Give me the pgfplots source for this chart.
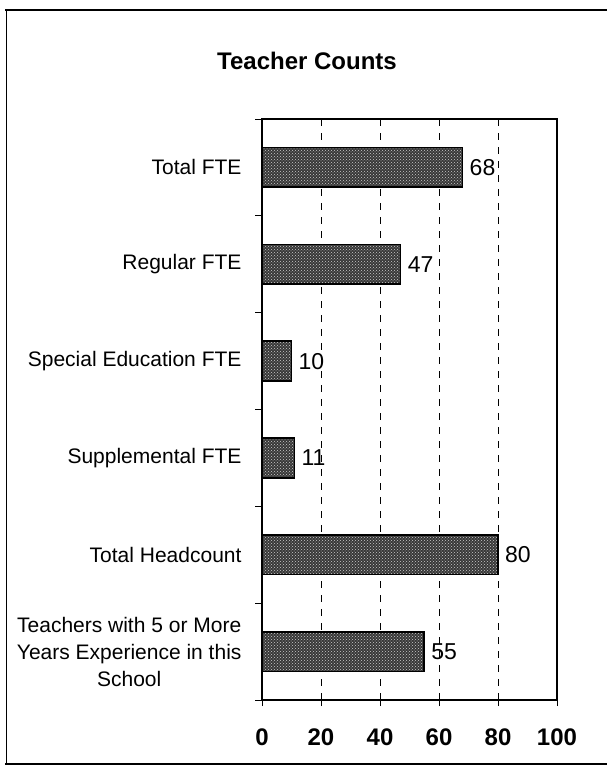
\documentclass[border=0pt]{standalone}
\usepackage{fontspec}
\setmainfont{Liberation Sans}
\usepackage{pgfplots}
\pgfplotsset{compat=1.18}
\usetikzlibrary{patterns}
\begin{document}
\begin{tikzpicture}
\useasboundingbox (0pt,0pt) rectangle (607pt,-767pt);
% scanned page frame
\draw[line width=2pt] (5pt,-10pt) -- (607pt,-10pt);
\draw[line width=0.8pt] (6pt,-10pt) -- (6pt,-764pt);
\draw[line width=1.2pt] (5pt,-764pt) -- (607pt,-764pt);
\node[font=\fontsize{24}{28}\selectfont\bfseries] at (307pt,-61pt) {Teacher Counts};
\begin{axis}[
  at={(262pt,-119pt)}, anchor=north west,
  scale only axis, width=295pt, height=581pt,
  /pgf/number format/assume math mode=true,
  xbar, bar width=0.41,
  xmin=0, xmax=100,
  ymin=-0.5, ymax=5.5, y dir=reverse,
  xtick={0,20,40,60,80,100},
  ytick={0,1,2,3,4,5},
  yticklabels={Total FTE, Regular FTE, Special Education FTE, Supplemental FTE, Total Headcount, {Teachers with 5 or More\\Years Experience in this\\School}},
  minor ytick={-0.5,0.5,1.5,2.5,3.5,4.5,5.5},
  tick pos=left,
  tick align=outside,
  major tick length=6pt, minor tick length=7pt,
  every tick/.style={black, line width=1pt},
  major y tick style={draw=none},
  xmajorgrids, grid style={black, dashed, line width=0.9pt, dash pattern=on 7pt off 7pt},
  axis line style={line width=1.4pt},
  yticklabel style={font=\fontsize{21}{27}\selectfont, align=center},
  xticklabel style={font=\fontsize{24}{28}\selectfont\bfseries},
  y tick label style={xshift=-11pt},
  x tick label style={yshift=-19pt},
  nodes near coords,
  point meta=x,
  every node near coord/.append style={font=\fontsize{23}{27}\selectfont, anchor=west, xshift=3pt},
]
\addplot[draw=black, line width=1.6pt, fill=black!78,
  postaction={pattern=crosshatch dots, pattern color=white!80!black}]
  coordinates {(68,0) (47,1) (10,2) (11,3) (80,4) (55,5)};
\end{axis}
\end{tikzpicture}
\end{document}
